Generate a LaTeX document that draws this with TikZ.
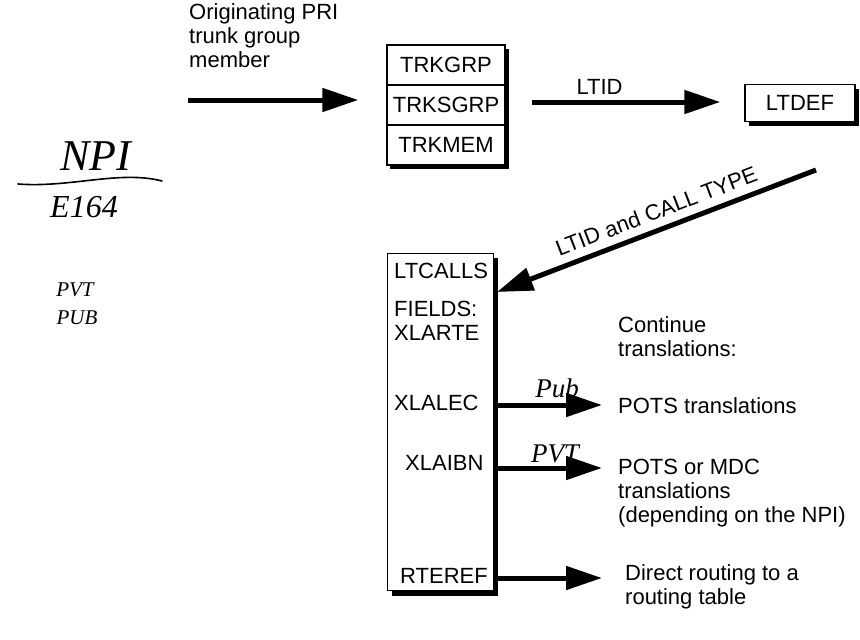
\documentclass[tikz,border=0pt]{standalone}
\usepackage{fontspec}
\setmainfont{Liberation Sans}
\newfontfamily\handfont{Liberation Serif}
\usetikzlibrary{arrows.meta}
\begin{document}
\begin{tikzpicture}[x=1pt,y=-1pt,
  every node/.style={font=\fontsize{22}{24}\selectfont, inner sep=0pt},
  bigarrow/.style={line width=5pt, -{Triangle[length=36pt,width=23pt]}},
  tablebox/.style={draw, line width=1.4pt, fill=white, minimum width=118pt, minimum height=40pt},
  shadow/.style={fill=black},
  hand/.style={font=\handfont\itshape\fontsize{44}{44}\selectfont},
  midhand/.style={font=\handfont\itshape\fontsize{32}{32}\selectfont},
  smallhand/.style={font=\handfont\itshape\fontsize{27}{27}\selectfont},
  tinyhand/.style={font=\handfont\itshape\fontsize{21}{21}\selectfont},
  lefttext/.style={align=left, anchor=north west}]

\useasboundingbox[fill=white] (0,0) rectangle (860,640);

% incoming trunk member
\node[lefttext] (orig) at (189,3) {Originating PRI\\trunk group\\member};
\coordinate (in1) at (188,100);

% trunk group tables with drop shadow
\fill[shadow] (390,49) rectangle (509,169);
\node[tablebox] (trkgrp)  at (446,65)  {TRKGRP};
\node[tablebox] (trksgrp) at (446,105) {TRKSGRP};
\node[tablebox] (trkmem)  at (446,145) {TRKMEM};

% LTDEF table
\fill[shadow] (749,89) rectangle (859,126);
\node[draw, line width=1.4pt, fill=white, minimum width=110pt, minimum height=37pt] (ltdef) at (800,103) {LTDEF};

% LTCALLS table
\fill[shadow] (392,258) rectangle (498,596);
\node[draw, line width=1.4pt, fill=white, minimum width=106pt, minimum height=337pt, anchor=north west] (calls) at (387,253) {};
\node[anchor=west] (ltcalls) at (394,271) {LTCALLS};
\node[anchor=north west, align=left] (fields) at (394,301) {FIELDS:\\XLARTE};
\node[anchor=west] (xlalec) at (394,403) {XLALEC};
\node[anchor=west] (xlaibn) at (405,463) {XLAIBN};
\node[anchor=west] (rteref) at (400,576) {RTEREF};

% destinations
\node[lefttext] (cont) at (618,316) {Continue\\translations:};
\node[anchor=west] (pots) at (618,406) {POTS translations};
\node[lefttext] (mdc) at (618,459) {POTS or MDC\\translations\\(depending on the NPI)};
\node[lefttext] (direct) at (625,564) {Direct routing to a\\routing table};

\coordinate (potsin) at (602,405);
\coordinate (mdcin) at (602,468);
\coordinate (directin) at (602,578);
\coordinate (ltdefout) at (816,170);
\coordinate (callsin) at (497,292);

% connectors
\draw[bigarrow] (in1) -- ([xshift=-28pt]in1 -| trksgrp.west);
\draw[bigarrow] (trksgrp.east |- in1) ++(26,2) coordinate (out2) -- ([xshift=-24pt]out2 -| ltdef.west)
  node[pos=0.36, above=5pt] (ltid) {LTID};
\draw[bigarrow] (ltdefout) -- (callsin)
  node[pos=0.48, sloped, above=8pt] (calltype) {LTID and CALL TYPE};
\draw[bigarrow] (potsin -| calls.east) -- (potsin);
\draw[bigarrow] (mdcin -| calls.east) -- (mdcin);
\draw[bigarrow] (directin -| calls.east) -- (directin);

% pencil notes
\node[hand] (npi) at (96,156) {NPI};
\draw[line width=1.6pt, line cap=round] (18,184) .. controls (70,188) and (120,170) .. (162,181);
\node[midhand] (e164) at (84,207) {E164};
\node[tinyhand] (pvt) at (75,290) {PVT};
\node[tinyhand] (pub) at (77,318) {PUB};
\node[smallhand] (pubx) at (557,388) {Pub};
\node[smallhand] (pvtx) at (555,454) {PVT};
\end{tikzpicture}
\end{document}
